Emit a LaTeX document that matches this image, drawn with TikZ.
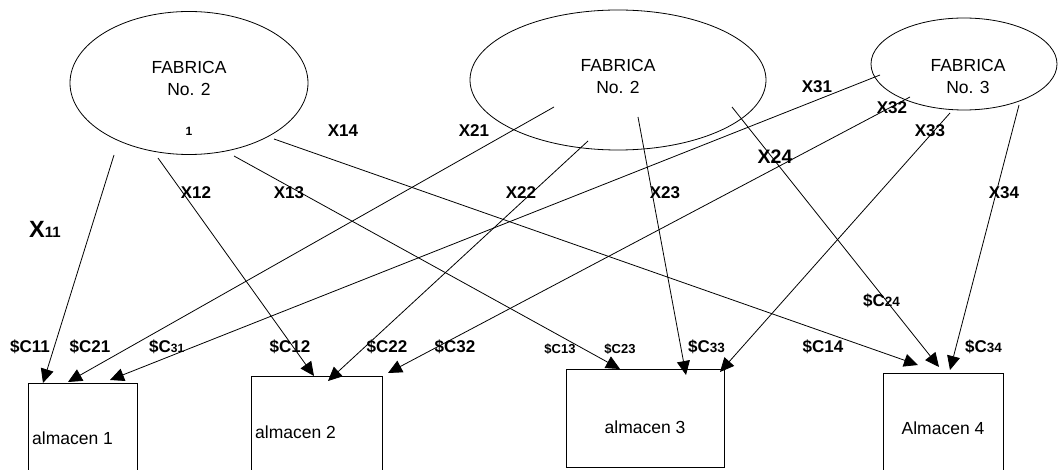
\documentclass[tikz,border=0pt]{standalone}
\usepackage{fontspec}
\setmainfont{Liberation Sans}
\usetikzlibrary{shapes.geometric,arrows.meta,calc}
\newcommand{\bigf}{\fontsize{17bp}{20bp}\selectfont}
\newcommand{\smallf}{\fontsize{13bp}{15bp}\selectfont}
\begin{document}
\begin{tikzpicture}[x=1bp,y=-1bp,
  fab/.style={draw, ellipse, inner sep=0, line width=0.8bp},
  store/.style={draw, rectangle, inner sep=0, anchor=north west, line width=0.8bp},
  flow/.style={draw, line width=0.8bp, -{Triangle[length=14bp,width=13bp]}},
  lab/.style={font=\bigf\bfseries, inner sep=0},
  slab/.style={font=\smallf\bfseries, inner sep=0},
  txt/.style={font=\fontsize{17.5bp}{22bp}\selectfont, inner sep=0, align=center}]
\useasboundingbox (0,0) rectangle (1058,470);
\clip (0,0) rectangle (1058,470);
% factories
\node[fab, minimum width=238bp, minimum height=143bp] (e1) at (189,83) {};
\node[txt] (f1) at (189,78) {FABRICA\\No. 2};
\node[font=\bfseries\fontsize{12bp}{14bp}\selectfont, inner sep=0] (n1) at (189,131) {1};
\node[fab, minimum width=296bp, minimum height=140bp] (e2) at (618,80) {};
\node[txt] (f2) at (618,76) {FABRICA\\No. 2};
\node[fab, minimum width=186bp, minimum height=92bp] (e3) at (964,64) {};
\node[txt] (f3) at (968,76) {FABRICA\\No. 3};
% stores
\node[store, minimum width=109bp, minimum height=100bp] (a1) at (28,383) {};
\node[txt, anchor=west] (t1) at (32,438) {almacen 1};
\node[store, minimum width=131bp, minimum height=110bp] (a2) at (251,376) {};
\node[txt, anchor=west] (t2) at (255,432) {almacen 2};
\node[store, minimum width=158bp, minimum height=98bp] (a3) at (566,369) {};
\node[txt] (t3) at (645,427) {almacen 3};
\node[store, minimum width=120bp, minimum height=110bp] (a4) at (883,373) {};
\node[txt] (t4) at (943,428) {Almacen 4};
% start points
\coordinate (s11) at (114,155);
\coordinate (s12) at (158,158);
\coordinate (s13) at (234,156);
\coordinate (s14) at (274,139);
\coordinate (s21) at (554,107);
\coordinate (s22) at (588,141);
\coordinate (s23) at (638,117);
\coordinate (s24) at (732,107);
\coordinate (s31) at (880,75);
\coordinate (s32) at (910,97);
\coordinate (s33) at (950,113);
\coordinate (s34) at (1019,105);
% flows
\draw[flow] (s11) -- ($(a1.north west)+(15,0)$);
\draw[flow] (s21) -- ($(a1.north west)+(40,-1)$);
\draw[flow] (s31) -- ($(a1.north west)+(82,-3)$);
\draw[flow] (s12) -- ($(a2.north west)+(63,0)$);
\draw[flow] (s22) -- ($(a2.north west)+(77,5)$);
\draw[flow] (s32) -- ($(a2.north west)+(137,-3)$);
\draw[flow] (s13) -- ($(a3.north west)+(54,0)$);
\draw[flow] (s23) -- ($(a3.north west)+(120,6)$);
\draw[flow] (s33) -- ($(a3.north west)+(154,3)$);
\draw[flow] (s14) -- ($(a4.north west)+(35,-8)$);
\draw[flow] (s24) -- ($(a4.north west)+(56,-6)$);
\draw[flow] (s34) -- ($(a4.north west)+(67,-3)$);
% X labels
\node[inner sep=0, anchor=base west, font=\bfseries] (x11) at (29,238) {\fontsize{23.5bp}{26bp}\selectfont X\fontsize{15bp}{17bp}\selectfont 11};
\node[lab] (x12) at (196,193) {X12};
\node[lab] (x13) at (289,193) {X13};
\node[lab] (x14) at (343,131) {X14};
\node[lab] (x21) at (474,131) {X21};
\node[lab] (x22) at (521,193) {X22};
\node[lab] (x23) at (665,193) {X23};
\node[lab, font=\fontsize{19.5bp}{22bp}\selectfont\bfseries] (x24) at (775,157) {X24};
\node[lab] (x31) at (817,87) {X31};
\node[lab] (x32) at (892,108) {X32};
\node[lab] (x33) at (930,131) {X33};
\node[lab] (x34) at (1004,193) {X34};
% cost labels
\node[lab] (c11) at (30,347) {\$C11};
\node[lab] (c21) at (90,347) {\$C21};
\node[lab, anchor=base west] (c31) at (149,353) {\$C{\fontsize{12bp}{14bp}\selectfont 31}};
\node[lab] (c12) at (290,347) {\$C12};
\node[lab] (c22) at (387,347) {\$C22};
\node[lab] (c32) at (455,347) {\$C32};
\node[slab] (c13) at (560,349) {\$C13};
\node[slab] (c23) at (620,349) {\$C23};
\node[lab, anchor=base west] (c33) at (688,353) {\$C{\fontsize{13.5bp}{15bp}\selectfont 33}};
\node[lab] (c14) at (823,347) {\$C14};
\node[lab, anchor=base west] (c24) at (863,307) {\$C{\fontsize{13.5bp}{15bp}\selectfont 24}};
\node[lab, anchor=base west] (c34) at (965,353) {\$C{\fontsize{13.5bp}{15bp}\selectfont 34}};
\end{tikzpicture}
\end{document}
